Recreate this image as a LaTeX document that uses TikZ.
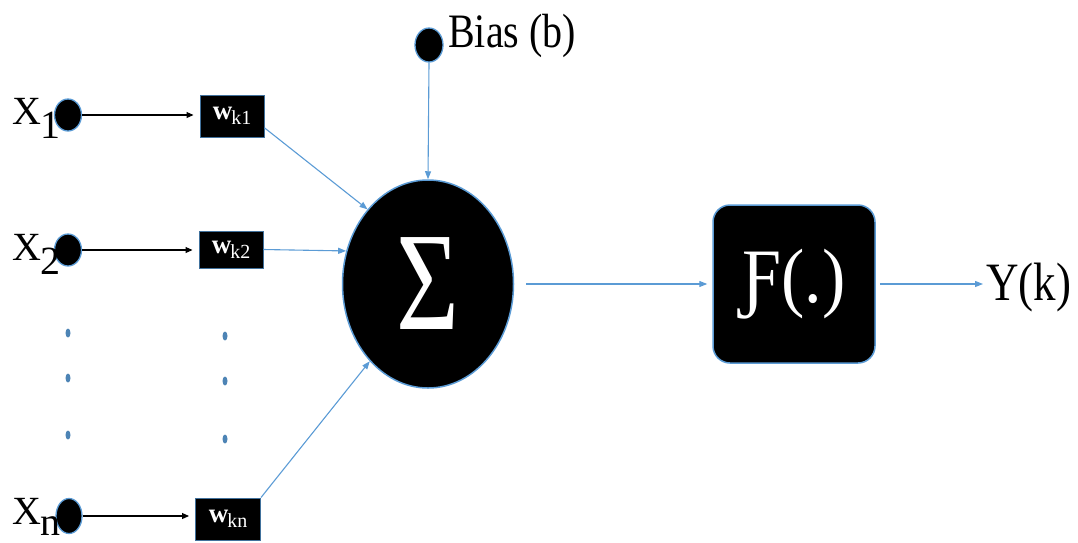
\documentclass[tikz,border=0pt]{standalone}
\usepackage{fontspec}
\setmainfont{Liberation Serif}
\usetikzlibrary{shapes.geometric,arrows.meta}
\definecolor{nblue}{RGB}{91,155,213}
\definecolor{nedge}{RGB}{65,113,156}
\newcommand{\wlab}[1]{\fontsize{27}{27}\selectfont\textbf{w}\kern-1pt\raisebox{-5pt}{\fontsize{20}{20}\selectfont #1}}
\begin{document}
\begin{tikzpicture}[x=1pt,y=-1pt,
  indot/.style={ellipse, fill=black, draw=nblue, line width=1.3pt, inner sep=0pt, minimum width=27pt, minimum height=32pt},
  vdot/.style={ellipse, fill=nblue!85!black, draw=none, inner sep=0pt, minimum width=5pt, minimum height=9pt},
  wbox/.style={rectangle, fill=black, draw=nedge, line width=1pt, inner sep=0pt, minimum width=64pt, minimum height=42pt, text=white},
  xlab/.style={anchor=base west, inner sep=0pt, font=\fontsize{40}{40}\selectfont},
  txt/.style={inner sep=0pt},
  barrow/.style={draw=black, line width=1.1pt, -{Triangle[length=7pt,width=6pt]}, shorten >=6pt},
  larrow/.style={draw=nblue, line width=1.1pt, -{Triangle[length=8pt,width=6pt]}}
]
\useasboundingbox (0,0) rectangle (1078,542);

% inputs
\node[indot] (x1) at (68,115) {};
\node[indot] (x2) at (68,250) {};
\node[indot, minimum height=35pt, minimum width=26pt] (xn) at (69,516) {};
\node[xlab] (lx1) at (12,124) {X\kern-1pt\raisebox{-14pt}{1}};
\node[xlab] (lx2) at (12,260) {X\kern-1pt\raisebox{-14pt}{2}};
\node[xlab] (lxn) at (12,524) {X\kern-1pt\raisebox{-11pt}{n}};

% weights
\node[wbox] (w1) at (232,116) {\wlab{k1}};
\node[wbox, minimum height=37pt] (w2) at (231,249.5) {\wlab{k2}};
\node[wbox, minimum width=65pt] (wn) at (228,519) {\wlab{kn}};

% dots
\node[vdot] (d1) at (68,333) {};
\node[vdot] (d2) at (68,378) {};
\node[vdot] (d3) at (68,435) {};
\node[vdot] (d4) at (225,336) {};
\node[vdot] (d5) at (225,381) {};
\node[vdot] (d6) at (225,439) {};

% bias
\node[indot, minimum width=28pt, minimum height=34pt] (b) at (429,45) {};
\node[txt, anchor=base west] (bl) at (448,47) {\scalebox{1}[1.2]{\fontsize{40}{40}\selectfont Bias (b)}};

% summation
\node[ellipse, fill=black, draw=nblue, line width=1.5pt, inner sep=0pt, minimum width=171pt, minimum height=208pt, text=white] (sig) at (428,284)
  {\raisebox{-4pt}{\scalebox{1}[1.3]{\fontsize{108}{108}\selectfont Σ}}};

% activation
\node[rectangle, rounded corners=17pt, fill=black, draw=nblue, line width=1.5pt, inner sep=0pt, minimum width=162pt, minimum height=158pt, text=white] (f) at (794,284)
  {\raisebox{-6pt}{\scalebox{1}[1.1]{\fontsize{70}{70}\selectfont Ƒ(.)}}};

% output
\node[txt, anchor=base west] (y) at (986,300) {\scalebox{1}[1.2]{\fontsize{45}{45}\selectfont Y(k)}};

% connectors
\draw[barrow] (x1.east) -- (x1.east -| w1.west);
\draw[barrow] (x2.east) -- (x2.east -| w2.west);
\draw[barrow] (xn.east) -- (xn.east -| wn.west);
\draw[larrow] (w1.-20) -- (sig.129);
\draw[larrow] (w2.east) -- (sig.158);
\draw[larrow] (wn.north east) -- (sig.233);
\draw[larrow] (b.south) -- (sig.north);
\draw[larrow, shorten <=12pt, shorten >=5pt] (sig.east) -- (f.west);
\draw[larrow, shorten <=4pt, shorten >=3pt] (f.east) -- (f.east -| y.west);
\end{tikzpicture}
\end{document}
